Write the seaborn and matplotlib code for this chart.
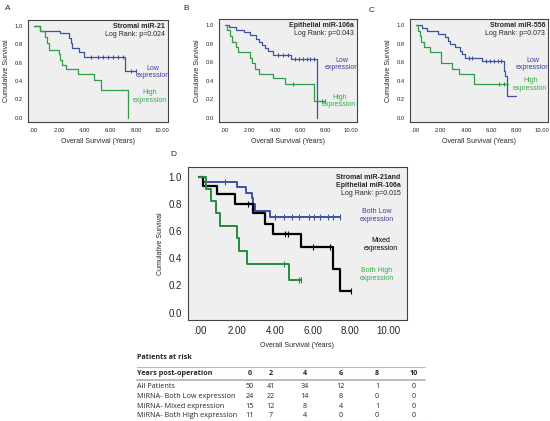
import matplotlib.pyplot as plt
import numpy as np
import pandas as pd
import seaborn as sns

sns.set_style('white')
plt.rcParams['font.family'] = ['Liberation Sans', 'DejaVu Sans']

BLUE = '#3a52a4'
GREEN = '#2e9b48'
BLUE_TXT = '#3d3d9e'
GREEN_TXT = '#2fb04a'
BG = '#efefef'

# --- panel A : Stromal miR-21 ---
a_low_t = [0, 0.47, 2.04, 2.75, 2.88, 3.0, 3.53, 3.93, 7.12, 8.0]
a_low_s = [1.0, 0.945, 0.927, 0.865, 0.817, 0.762, 0.714, 0.663, 0.505, 0.505]
a_low_ct = [4.5, 5.0, 5.4, 5.8, 6.2, 6.6, 7.0, 7.6, 8.0]
a_low_cs = [0.663] * 7 + [0.505] * 2
a_high_t = [0, 0.47, 0.86, 1.05, 1.18, 1.96, 2.09, 2.2, 2.49, 3.48, 4.71, 5.24, 7.4]
a_high_s = [1.0, 0.95, 0.88, 0.82, 0.74, 0.69, 0.63, 0.58, 0.53, 0.48, 0.41, 0.30, 0.0]

# --- panel B : Epithelial miR-106a ---
b_low_t = [0, 0.35, 0.9, 1.5, 2.0, 2.45, 2.7, 2.95, 3.2, 3.45, 3.85, 5.3, 7.35]
b_low_s = [1.0, 0.975, 0.95, 0.92, 0.89, 0.85, 0.82, 0.79, 0.75, 0.72, 0.68, 0.63, 0.0]
b_low_ct = [4.2, 4.6, 5.0, 5.6, 5.9, 6.2, 6.5, 6.8, 7.1]
b_low_cs = [0.68] * 3 + [0.63] * 6
b_high_t = [0, 0.2, 0.4, 0.6, 0.86, 1.07, 2.03, 2.2, 2.4, 2.7, 3.86, 4.78, 7.05, 8.0]
b_high_s = [1.0, 0.95, 0.88, 0.82, 0.76, 0.71, 0.65, 0.59, 0.53, 0.47, 0.43, 0.36, 0.18, 0.18]
b_high_ct = [5.4, 7.7, 8.0]
b_high_cs = [0.36, 0.18, 0.18]

# --- panel C : Stromal miR-556 ---
c_low_t = [0, 0.5, 0.9, 1.8, 2.3, 2.6, 2.75, 3.1, 3.5, 3.7, 3.9, 5.3, 7.0, 7.1, 7.25, 8.0]
c_low_s = [1.0, 0.97, 0.94, 0.90, 0.87, 0.83, 0.80, 0.76, 0.72, 0.69, 0.65, 0.61, 0.51, 0.45, 0.23, 0.23]
c_low_ct = [4.2, 4.5, 5.6, 5.9, 6.2, 6.5, 6.8]
c_low_cs = [0.65] * 2 + [0.61] * 5
c_high_t = [0, 0.15, 0.35, 0.45, 0.7, 1.15, 2.0, 2.9, 3.4, 4.65, 7.3]
c_high_s = [1.0, 0.94, 0.88, 0.82, 0.76, 0.71, 0.59, 0.53, 0.47, 0.36, 0.36]
c_high_ct = [6.6, 7.0]
c_high_cs = [0.36, 0.36]

# --- panel D : Stromal miR-21 and Epithelial miR-106a ---
d_low_t = [0, 0.2, 2.0, 2.46, 2.77, 2.86, 2.95, 3.75, 7.45]
d_low_s = [1.0, 0.96, 0.92, 0.88, 0.84, 0.80, 0.75, 0.70, 0.70]
d_low_ct = [1.35, 4.0, 4.5, 4.9, 5.3, 5.8, 6.1, 6.4, 6.8, 7.1, 7.45]
d_low_cs = [0.96] + [0.70] * 10
d_mix_t = [0, 0.18, 0.93, 1.88, 2.82, 3.48, 3.89, 5.41, 7.1, 7.45, 8.05]
d_mix_s = [1.0, 0.93, 0.87, 0.80, 0.73, 0.65, 0.58, 0.48, 0.32, 0.16, 0.16]
d_mix_ct = [2.6, 4.55, 4.68, 6.0, 6.9, 8.05]
d_mix_cs = [0.80, 0.58, 0.58, 0.48, 0.48, 0.16]
d_high_t = [0, 0.36, 0.63, 0.86, 1.07, 2.0, 2.09, 2.5, 4.73, 5.41]
d_high_s = [1.0, 0.91, 0.82, 0.73, 0.64, 0.55, 0.45, 0.36, 0.24, 0.24]
d_high_ct = [4.5, 5.27, 5.41]
d_high_cs = [0.36, 0.24, 0.24]

# --- patients at risk table ---
risk_years = [0, 2, 4, 6, 8, 10]
risk_groups = ['All Patients', 'MiRNA- Both Low expression',
               'MiRNA- Mixed expression', 'MiRNA- Both High expression']
risk_counts = [[50, 41, 34, 12, 1, 0],
               [24, 22, 14, 8, 0, 0],
               [15, 12, 8, 4, 1, 0],
               [11, 7, 4, 0, 0, 0]]

W, H = 550, 421
fig = plt.figure(figsize=(W / 100, H / 100), dpi=100)


def px_axes(x0, y0, x1, y1):
    return fig.add_axes([x0 / W, 1 - y1 / H, (x1 - x0) / W, (y1 - y0) / H])


def km(ax, t, s, color, lw, ct=None, cs=None, msize=12):
    df = pd.DataFrame({'t': t, 's': s})
    sns.lineplot(data=df, x='t', y='s', ax=ax, color=color, lw=lw,
                 drawstyle='steps-post', estimator=None, sort=False)
    if ct:
        sns.scatterplot(x=ct, y=cs, ax=ax, marker='|', color=color,
                        s=msize, linewidth=0.8, zorder=3)


def style(ax, tick_fs, lab_fs, xlim, ylim):
    ax.set_facecolor(BG)
    ax.set_xlim(*xlim)
    ax.set_ylim(*ylim)
    ax.set_xticks([0, 2, 4, 6, 8, 10])
    ax.set_xticklabels(['.00', '2.00', '4.00', '6.00', '8.00', '10.00'], fontsize=tick_fs)
    ax.set_yticks([0, 0.2, 0.4, 0.6, 0.8, 1.0])
    ax.set_yticklabels(['0.0', '0.2', '0.4', '0.6', '0.8', '1.0'], fontsize=tick_fs)
    ax.tick_params(length=2, width=0.6, pad=2, color='#333333')
    ax.set_xlabel('Overall Survival (Years)', fontsize=lab_fs, labelpad=4)
    ax.set_ylabel('Cumulative Survival', fontsize=lab_fs, labelpad=3)
    for sp in ax.spines.values():
        sp.set_color('#444444')
        sp.set_linewidth(0.8)


small = [
    (px_axes(28, 20, 168, 122), 'Stromal miR-21', 'Log Rank: p=0.024',
     (a_low_t, a_low_s, a_low_ct, a_low_cs), (a_high_t, a_high_s, None, None),
     0.50, 0.23),
    (px_axes(219, 19, 357, 122), 'Epithelial miR-106a', 'Log Rank: p=0.043',
     (b_low_t, b_low_s, b_low_ct, b_low_cs), (b_high_t, b_high_s, b_high_ct, b_high_cs),
     0.58, 0.18),
    (px_axes(410, 19, 548, 122), 'Stromal miR-556', 'Log Rank: p=0.073',
     (c_low_t, c_low_s, c_low_ct, c_low_cs), (c_high_t, c_high_s, c_high_ct, c_high_cs),
     0.58, 0.36),
]

for ax, title, pval, low, high, ylow, yhigh in small:
    km(ax, *low[:2], BLUE, 0.9, low[2], low[3], msize=8)
    km(ax, *high[:2], GREEN, 0.9, high[2], high[3], msize=8)
    style(ax, 4.2, 5, (-0.45, 10.5), (-0.045, 1.065))
    ax.text(0.98, 0.935, title, transform=ax.transAxes, ha='right', va='center',
            fontsize=5, fontweight='bold')
    ax.text(0.98, 0.86, pval, transform=ax.transAxes, ha='right', va='center', fontsize=5)
    ax.text(9.3, ylow, 'Low\nexpression', ha='center', va='center', fontsize=5,
            color=BLUE_TXT, linespacing=1.1)
    ax.text(9.1, yhigh, 'High\nexpression', ha='center', va='center', fontsize=5,
            color=GREEN_TXT, linespacing=1.1)

# big panel D
axd = px_axes(188, 167, 407, 320)
km(axd, d_low_t, d_low_s, BLUE, 1.4, d_low_ct, d_low_cs, msize=22)
km(axd, d_mix_t, d_mix_s, 'black', 1.6, d_mix_ct, d_mix_cs, msize=22)
km(axd, d_high_t, d_high_s, '#238c3e', 1.4, d_high_ct, d_high_cs, msize=22)
style(axd, 7, 5, (-0.6, 11.0), (-0.054, 1.07))
axd.tick_params(length=2.5)
axd.text(0.97, 0.955, 'Stromal miR-21and\nEpithelial miR-106a', transform=axd.transAxes,
         ha='right', va='top', fontsize=5, fontweight='bold', linespacing=1.25)
axd.text(0.97, 0.83, 'Log Rank: p=0.015', transform=axd.transAxes,
         ha='right', va='center', fontsize=5)
axd.text(9.4, 0.715, 'Both Low\nexpression', ha='center', va='center', fontsize=5,
         color=BLUE_TXT, linespacing=1.2)
axd.text(9.6, 0.50, 'Mixed\nexpression', ha='center', va='center', fontsize=5,
         color='black', linespacing=1.2)
axd.text(9.4, 0.28, 'Both High\nexpression', ha='center', va='center', fontsize=5,
         color=GREEN_TXT, linespacing=1.2)

# panel letters
for x, y, lab in [(5, 8, 'A'), (183, 8, 'B'), (369, 10, 'C'), (170, 155, 'D')]:
    fig.text(x / W, 1 - y / H, lab, fontsize=6, va='center', ha='left')

# patients at risk table
tab = fig.add_axes([0, 0, 1, 1], facecolor='none')
tab.set_xlim(0, W)
tab.set_ylim(H, 0)
tab.axis('off')
tfont = ['Open Sans', 'DejaVu Sans']
col_x = [250, 271, 305, 341, 377, 414]
tab.text(137, 357.5, 'Patients at risk', fontsize=5.2, fontweight='bold', va='center',
         family=tfont)
tab.plot([137, 425], [367, 367], color='#bbbbbb', lw=0.8)
tab.plot([137, 425], [380, 380], color='#bbbbbb', lw=1.4)
tab.plot([137, 425], [420.5, 420.5], color='#bbbbbb', lw=0.8)
tab.text(137, 373.5, 'Years post-operation', fontsize=5.2, fontweight='bold',
         va='center', family=tfont)
for x, yr in zip(col_x, risk_years):
    tab.text(x, 373.5, str(yr), fontsize=5.2, fontweight='bold', va='center',
             ha='center', family=tfont)
for i, (grp, counts) in enumerate(zip(risk_groups, risk_counts)):
    y = 386.5 + i * 9.8
    tab.text(137, y, grp, fontsize=5.2, va='center', family=tfont)
    for x, c in zip(col_x, counts):
        tab.text(x, y, str(c), fontsize=5.2, va='center', ha='center', family=tfont)

fig.savefig('out.png', dpi=100)
